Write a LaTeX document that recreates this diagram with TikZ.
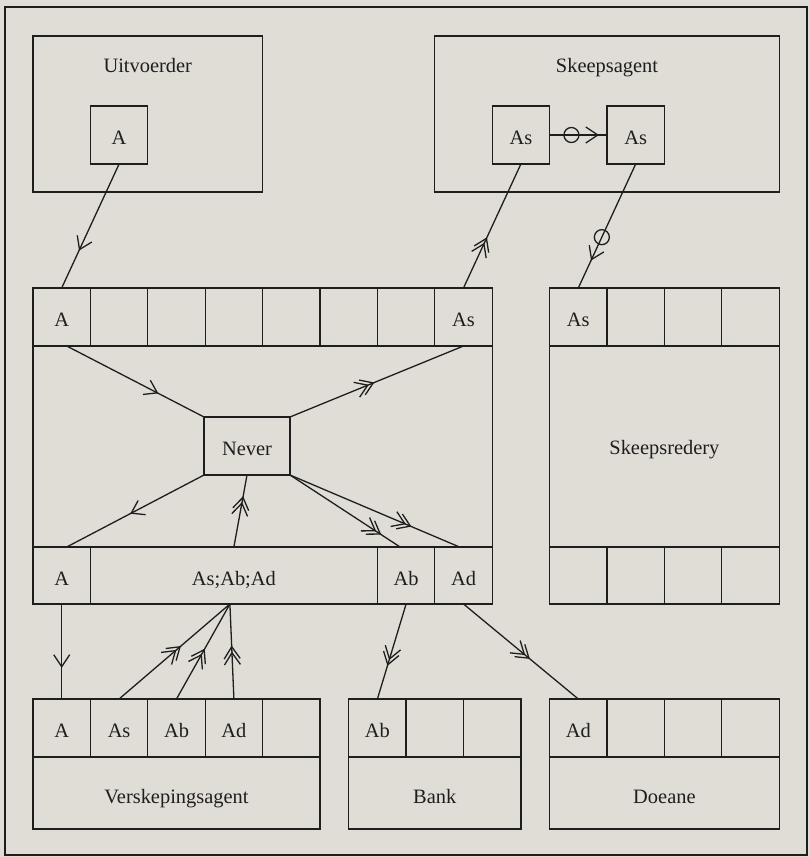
\documentclass[tikz,border=0pt]{standalone}
\usepackage{fontspec}
\setmainfont{Liberation Serif}
\usetikzlibrary{decorations.markings,calc}
\definecolor{bg}{RGB}{223,221,214}
\definecolor{ink}{RGB}{30,30,30}
\tikzset{
  every node/.style={font=\fontsize{20.5}{22}\selectfont, text=ink},
  box/.style={draw=ink, line width=1.3bp, inner sep=0pt, outer sep=0pt},
  cell/.style={box, minimum width=57.4bp, minimum height=58bp, text height=19bp, text depth=0bp},
  lowcell/.style={cell, minimum height=57bp},
  title/.style={anchor=base, inner sep=0pt},
  conn/.style={draw=ink, line width=1.3bp},
  tipone/.style={postaction={decorate,decoration={markings,mark=at position #1 with {\draw[conn] (-12bp,8bp) -- (0bp,0bp) -- (-12bp,-8bp);}}}},
  tiptwo/.style={postaction={decorate,decoration={markings,mark=at position #1 with {\draw[conn] (-12bp,8bp) -- (0bp,0bp) -- (-12bp,-8bp) (-18bp,8bp) -- (-6bp,0bp) -- (-18bp,-8bp);}}}},
  ringmark/.style={postaction={decorate,decoration={markings,mark=at position #1 with {\draw[conn] (0bp,0bp) circle[radius=7.5bp];}}}},
}
\begin{document}
\begin{tikzpicture}[x=1bp,y=-1bp]
\fill[bg] (0,0) rectangle (810,857);
\useasboundingbox (0,0) rectangle (810,857);
\draw[conn] (5,7) rectangle (807,855);

% Uitvoerder
\node[box, minimum width=229.6bp, minimum height=156bp] (uit) at (147.8,114) {};
\node[title] (uitT) at (147.8,72) {Uitvoerder};
\node[cell] (uA) at (119.1,135) {A};

% Skeepsagent
\node[box, minimum width=344.4bp, minimum height=156bp] (ska) at (607,114) {};
\node[title] (skaT) at (607,72) {Skeepsagent};
\node[cell] (sa1) at (520.9,135) {As};
\node[cell] (sa2) at (635.7,135) {As};

% main box
\node[box, minimum width=459.2bp, minimum height=316bp] (main) at (262.6,446) {};
\node[cell] (mt1) at (61.7,317) {A};
\node[cell] (mt2) at (119.1,317) {};
\node[cell] (mt3) at (176.5,317) {};
\node[cell] (mt4) at (233.9,317) {};
\node[cell] (mt5) at (291.3,317) {};
\node[cell] (mt6) at (348.7,317) {};
\node[cell] (mt7) at (406.1,317) {};
\node[cell] (mt8) at (463.5,317) {As};
\node[lowcell] (bA) at (61.7,575.5) {A};
\node[lowcell, minimum width=287bp] (bAll) at (233.9,575.5) {As;Ab;Ad};
\node[lowcell] (bAb) at (406.1,575.5) {Ab};
\node[lowcell] (bAd) at (463.5,575.5) {Ad};
\node[cell, minimum width=86bp] (nev) at (247,446) {Never};

% Skeepsredery
\node[box, minimum width=229.6bp, minimum height=316bp] (sred) at (664.4,446) {};
\node[title] (sredT) at (664.4,454) {Skeepsredery};
\node[cell] (st1) at (578.3,317) {As};
\node[cell] (st2) at (635.7,317) {};
\node[cell] (st3) at (693.1,317) {};
\node[cell] (st4) at (750.5,317) {};
\node[lowcell] (sb1) at (578.3,575.5) {};
\node[lowcell] (sb2) at (635.7,575.5) {};
\node[lowcell] (sb3) at (693.1,575.5) {};
\node[lowcell] (sb4) at (750.5,575.5) {};

% Verskepingsagent
\node[box, minimum width=287bp, minimum height=130bp] (vag) at (176.5,764) {};
\node[title] (vagT) at (176.5,803) {Verskepingsagent};
\node[cell] (vA) at (61.7,728) {A};
\node[cell] (vAs) at (119.1,728) {As};
\node[cell] (vAb) at (176.5,728) {Ab};
\node[cell] (vAd) at (233.9,728) {Ad};
\node[cell] (v5) at (291.3,728) {};

% Bank
\node[box, minimum width=172.2bp, minimum height=130bp] (bank) at (434.8,764) {};
\node[title] (bankT) at (434.8,803) {Bank};
\node[cell] (kAb) at (377.4,728) {Ab};
\node[cell] (k2) at (434.8,728) {};
\node[cell] (k3) at (492.2,728) {};

% Doeane
\node[box, minimum width=229.6bp, minimum height=130bp] (doe) at (664.4,764) {};
\node[title] (doeT) at (664.4,803) {Doeane};
\node[cell] (dAd) at (578.3,728) {Ad};
\node[cell] (d2) at (635.7,728) {};
\node[cell] (d3) at (693.1,728) {};
\node[cell] (d4) at (750.5,728) {};

% connectors
\draw[conn, tipone=0.69] (uA.south) -- (mt1.north);
\draw[conn, tiptwo=0.40] (mt8.north) -- (sa1.south);
\draw[conn, ringmark=0.59, tipone=0.77] (sa2.south) -- (st1.north);
\draw[conn, ringmark=0.38, tipone=0.84] (sa1.east) -- (sa2.west);
\draw[conn, tipone=0.66] ($(mt1.south)+(5,0)$) -- (nev.north west);
\draw[conn, tiptwo=0.48] (nev.north east) -- (mt8.south);
\draw[conn, tipone=0.53] (nev.south west) -- ($(bA.north)+(5,0)$);
\draw[conn, tiptwo=0.69] (bAll.north) -- (nev.south);
\draw[conn, tiptwo=0.82] (nev.south east) -- ($(bAb.north)+(-6,0)$);
\draw[conn, tiptwo=0.71] (nev.south east) -- ($(bAd.north)+(-4,0)$);
\draw[conn, tipone=0.66] (bA.south) -- (vA.north);
\coordinate (hub) at ($(bAll.south)+(-4,0)$);
\draw[conn, tiptwo=0.55] (vAs.north) -- (hub);
\draw[conn, tiptwo=0.52] (vAb.north) -- (hub);
\draw[conn, tiptwo=0.55] (vAd.north) -- (hub);
\draw[conn, tiptwo=0.64] (bAb.south) -- (kAb.north);
\draw[conn, tiptwo=0.57] (bAd.south) -- (dAd.north);
\end{tikzpicture}
\end{document}
